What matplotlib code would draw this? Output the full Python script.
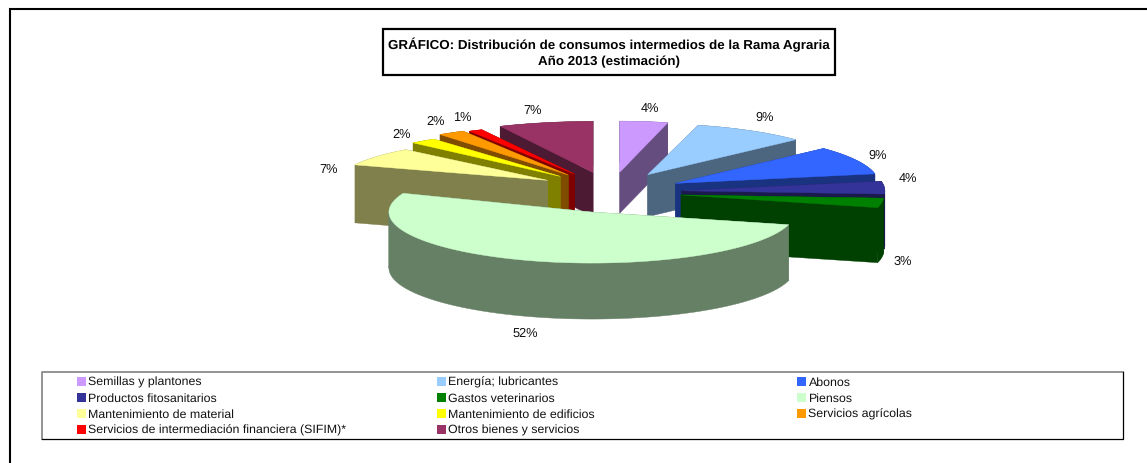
"""
Gráfico: distribución de consumos intermedios de la Rama Agraria, 2013.
Tarta 3D con sectores separados, dibujada a mano porque matplotlib no la trae.
"""
import matplotlib.pyplot as plt
import numpy as np
from matplotlib.patches import Polygon, Rectangle

plt.rcParams["font.family"] = ["Liberation Sans", "DejaVu Sans"]
plt.rcParams["text.hinting"] = "no_hinting"

CATEGORIES = [
    "Semillas y plantones", "Energía; lubricantes", "Abonos",
    "Productos fitosanitarios", "Gastos veterinarios", "Piensos",
    "Mantenimiento de material", "Mantenimiento de edificios", "Servicios agrícolas",
    "Servicios de intermediación financiera (SIFIM)*", "Otros bienes y servicios",
]
SHARES = [4, 9, 9, 4, 3, 52, 7, 2, 2, 1, 7]
COLORS = ["#CC99FF", "#99CCFF", "#3366FF", "#333399", "#008000", "#CCFFCC",
          "#FFFF99", "#FFFF00", "#FF9900", "#FF0000", "#993366"]
TITLE = "GRÁFICO: Distribución de consumos intermedios de la Rama Agraria\nAño 2013 (estimación)"

# geometría de la tarta (en píxeles de la figura)
CX, CY = 610, 192
RX = [193, 203, 203, 203, 203, 203, 207, 215, 218, 218, 218]
RY = [51, 51, 51, 51, 51, 51, 42, 46, 50, 49, 51]
EXPLODE_X, EXPLODE_Y = 78, 19
NUDGE_X = [0, -2, -4, -6, -6, 6, 2, 0, 0, 0, 0]
NUDGE_Y = [0, 0, 1, 1, 1, 3, 0, 0, 0, 0, 0]
DEPTHS = [41, 42, 50, 55, 55, 56, 58, 50, 48, 46, 44]
DRAW_ORDER = [0, 1, 2, 3, 4, 10, 9, 8, 7, 6, 5]
LABEL_POS = [(650, 112), (765, 121), (878, 159), (908, 182), (903, 265), (525, 337),
             (329, 173), (402, 138), (436, 125), (462, 121), (533, 114)]


def darker(hex_color):
    rgb = np.array([int(hex_color[i:i + 2], 16) for i in (1, 3, 5)]) / 255
    return tuple(rgb * 0.5)


def draw_wedge(ax, start, end, color, depth, rx, ry, dx, dy):
    mid = (start + end) / 2
    apex = np.array([CX + EXPLODE_X * np.sin(mid) + dx, CY - EXPLODE_Y * np.cos(mid) + dy])
    down = np.array([0, depth])
    side = darker(color)

    def arc_points(a, b):
        theta = np.linspace(a, b, 80)
        return np.column_stack([apex[0] + rx * np.sin(theta), apex[1] - ry * np.cos(theta)])

    arc = arc_points(start, end)
    # caras radiales
    for p in (arc[0], arc[-1]):
        ax.add_patch(Polygon([apex, p, p + down, apex + down], closed=True,
                             facecolor=side, edgecolor=side, linewidth=0.3))
    # borde exterior: se parte en los extremos de la elipse para que no se cruce
    cuts = [t for t in (np.pi / 2, 3 * np.pi / 2) if start < t < end]
    limits = [start] + cuts + [end]
    for a, b in zip(limits[:-1], limits[1:]):
        part = arc_points(a, b)
        band = np.vstack([part, (part + down)[::-1]])
        ax.add_patch(Polygon(band, closed=True, facecolor=side, edgecolor=side, linewidth=0.3))
    top = np.vstack([apex, arc])
    ax.add_patch(Polygon(top, closed=True, facecolor=color, edgecolor=color, linewidth=0.3))


fig = plt.figure(figsize=(11.47, 4.64), dpi=100)
ax = fig.add_axes([0, 0, 1, 1])
ax.set_xlim(0, 1147)
ax.set_ylim(464, 0)
ax.axis("off")

# marco exterior: solo izquierda y arriba
ax.plot([10, 10, 1147], [464, 10, 10], color="black", linewidth=1.5, solid_joinstyle="miter")

# sectores
edges = np.r_[0, np.cumsum(SHARES)] / sum(SHARES) * 2 * np.pi
for i in DRAW_ORDER:
    draw_wedge(ax, edges[i], edges[i + 1], COLORS[i], DEPTHS[i], RX[i], RY[i], NUDGE_X[i], NUDGE_Y[i])

for share, (lx, ly) in zip(SHARES, LABEL_POS):
    ax.text(lx, ly, f"{share}%", ha="center", va="baseline", fontsize=9.2, color="#111111")

# título
ax.add_patch(Rectangle((383, 30), 452, 46, facecolor="white", edgecolor="black", linewidth=1.6))
ax.text(609, 52.5, TITLE, ha="center", va="center", fontsize=9.65, fontweight="bold", linespacing=1.4)

# leyenda: arriba e izquierda gris, abajo y derecha negro
ax.add_patch(Rectangle((42, 373), 1081, 66.5, facecolor="white", edgecolor="none"))
ax.plot([42, 42, 1123], [439.5, 373, 373], color="#808080", linewidth=1.2)
ax.plot([42, 1123, 1123], [439.5, 439.5, 373], color="black", linewidth=0.9)
col_x = [77, 437, 797]
row_y = [382.5, 398.5, 414.5, 430.5]
for k, (name, color) in enumerate(zip(CATEGORIES, COLORS)):
    x, y = col_x[k % 3], row_y[k // 3]
    ax.add_patch(Rectangle((x, y - 4.5), 9, 9, facecolor=color, edgecolor="none"))
    ax.text(x + 11.5, y + 3.5, name, ha="left", va="baseline", fontsize=8.95, color="#111111")

fig.savefig("out.png", dpi=100)
